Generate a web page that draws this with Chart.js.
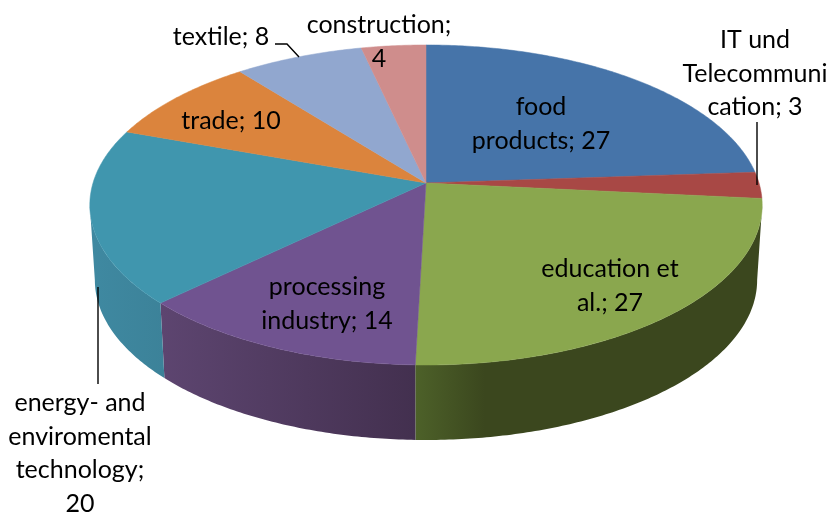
<!DOCTYPE html>
<html lang="en">
<head>
  <meta charset="UTF-8" />
  <title>Companies by sector</title>
  <script src="https://cdn.jsdelivr.net/npm/chart.js"></script>
  <style>html,body{margin:0;background:#fff}</style>
</head>
<body>
<canvas id="chart" width="834" height="512"></canvas>

<script>
/* data */
const categories = ['food products','IT und Telecommunication','education et al.','processing industry','energy- and enviromental technology','trade','textile','construction'];
const values     = [27,3,27,14,20,10,8,4];
const topColors  = ['#4674a9','#a84845','#8aa74e','#705390','#4096ae','#db843d','#91a7cf','#cf8d8c'];
const wallStart  = ['#3a5f8a','#8a3a38','#4d6129','#5d4570','#3f89a1','#b06a30','#7587a8','#a87272'];
const wallEnd    = ['#2f4d70','#702f2d','#3b471e','#43304f','#3c8299','#8f5627','#5f6e88','#885c5c'];

/* wrapped label text, value gets added to the last line */
const labelLines = [['food','products; 27'],['IT und','Telecommuni','cation; 3'],['education et','al.; 27'],['processing','industry; 14'],['energy- and','enviromental','technology;','20'],['trade; 10'],['textile; 8'],['construction;','4']];
const labelX     = [541,755,610,327,80,231,221,379];
const labelY     = [107,40,269,287,403,121,37,25];
const lineGap    = 33.5;

/* perspective of the disc */
const CX = 426, CY = 183, RX = 333, RY = 157, P = 0.1374;
const DEPTH = 75, BOTTOM_SX = 0.985;

function project(a, bottom) {
  const u = Math.cos(a), v = Math.sin(a), d = 1 - P*v;
  const x = RX*u/d, y = RY*v/d;
  return bottom ? [CX + x*BOTTOM_SX, CY + y + DEPTH] : [CX + x, CY + y];
}

const disc3d = {
  id:'disc3d',
  beforeDatasetsDraw(chart) {
    const ctx = chart.ctx, arcs = chart.getDatasetMeta(0).data;
    const frontFrom = Math.asin(P), frontTo = Math.PI - frontFrom;

    /* side wall, only the part that faces us */
    arcs.forEach((el,i) => {
      const a0 = Math.max(el.startAngle, frontFrom), a1 = Math.min(el.endAngle, frontTo);
      if (a1 <= a0) return;
      const n = Math.ceil((a1-a0)*90), upper = [], lower = [];
      for (let k=0;k<=n;k++) {
        const a = a0 + (a1-a0)*k/n;
        upper.push(project(a,false));
        lower.push(project(a,true));
      }
      const xs = upper.concat(lower).map(p => p[0]);
      const left = Math.min(...xs), right = Math.max(...xs);
      const g = ctx.createLinearGradient(left,0,right,0);
      // green one has the shine only at its left end
      if (i===2) {
        g.addColorStop(0,wallStart[i]); g.addColorStop(0.2,wallEnd[i]); g.addColorStop(1,wallEnd[i]);
      } else {
        g.addColorStop(0,wallStart[i]); g.addColorStop(1,wallEnd[i]);
      }
      ctx.beginPath();
      upper.forEach((p,k) => k ? ctx.lineTo(p[0],p[1]) : ctx.moveTo(p[0],p[1]));
      lower.reverse().forEach(p => ctx.lineTo(p[0],p[1]));
      ctx.closePath();
      ctx.fillStyle = g;
      ctx.fill();
    });

    /* top face */
    arcs.forEach((el,i) => {
      const n = Math.ceil((el.endAngle-el.startAngle)*90);
      ctx.beginPath();
      ctx.moveTo(CX,CY);
      for (let k=0;k<=n;k++) {
        const p = project(el.startAngle + (el.endAngle-el.startAngle)*k/n,false);
        ctx.lineTo(p[0],p[1]);
      }
      ctx.closePath();
      ctx.fillStyle = topColors[i];
      ctx.fill();
      ctx.strokeStyle = topColors[i];
      ctx.lineWidth = 0.5;
      ctx.stroke();
    });
    return false;
  },
  afterDraw(chart) {
    const ctx = chart.ctx;
    /* leader lines */
    ctx.strokeStyle = '#000';
    ctx.lineWidth = 1.4;
    [[[98,287],[98,384]],[[757,122],[757,185]],[[275,44],[287,44],[299,57]]].forEach(line => {
      ctx.beginPath();
      line.forEach((p,k) => k ? ctx.lineTo(p[0],p[1]) : ctx.moveTo(p[0],p[1]));
      ctx.stroke();
    });
    /* labels */
    ctx.fillStyle = '#000';
    ctx.font = '25px Lato';
    ctx.textAlign = 'center';
    ctx.textBaseline = 'middle';
    labelLines.forEach((lines,i) => {
      lines.forEach((t,k) => ctx.fillText(t,labelX[i],labelY[i]+k*lineGap));
    });
  }
};

new Chart(document.getElementById('chart'),{
  type:'pie',
  data:{
    labels:categories,
    datasets:[{data:values,backgroundColor:topColors,borderWidth:0}]
  },
  options:{
    responsive:false,
    animation:false,
    plugins:{legend:{display:false},tooltip:{enabled:false}}
  },
  plugins:[disc3d]
});
</script>
</body>
</html>
